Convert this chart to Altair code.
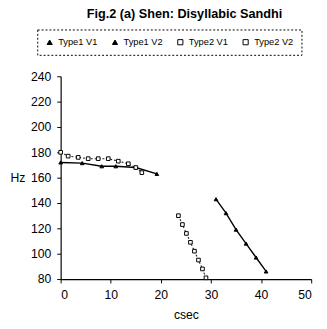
import altair as alt
import pandas as pd

series_names = ["Type1 V1", "Type1 V2", "Type2 V1", "Type2 V2"]

t1v1_x = [0, 4.3, 8.2, 11, 15, 19.2]
t1v1_y = [172, 171.5, 169, 169, 168, 163]

t1v2_x = [31, 33, 35, 37, 39, 41]
t1v2_y = [143, 132, 119, 108, 97, 86]

t2v1_x = [0, 1.5, 3.5, 5.5, 7.5, 9.5, 11.5, 13.5, 15, 16.2]
t2v1_y = [180, 177, 176, 175, 175, 175, 173, 171, 168, 164]

t2v2_x = [23.5, 24.3, 25.1, 25.9, 26.7, 27.5, 28.3, 29]
t2v2_y = [130, 123, 116, 109, 102, 95, 88, 81]

x_ticks = [0, 10, 20, 30, 40, 50]
y_ticks = [80, 100, 120, 140, 160, 180, 200, 220, 240]

title_text = "Fig.2 (a) Shen: Disyllabic Sandhi"

rows = []
for name, xs, ys in zip(series_names, [t1v1_x, t1v2_x, t2v1_x, t2v2_x],
                        [t1v1_y, t1v2_y, t2v1_y, t2v2_y]):
    for i, (xv, yv) in enumerate(zip(xs, ys)):
        rows.append({"series": name, "csec": xv, "Hz": yv, "ord": i,
                     "kind": name.split(" ")[0]})
df = pd.DataFrame(rows)

FONT = "Liberation Sans"

x_enc = alt.X("csec:Q", scale=alt.Scale(domain=[0, 50], nice=False),
              axis=alt.Axis(values=x_ticks, title="csec", titleFontWeight="normal",
                            titleFontSize=12.5, titlePadding=8, labelPadding=6,
                            tickSize=4, labelOverlap=False))
y_enc = alt.Y("Hz:Q", scale=alt.Scale(domain=[80, 240], nice=False),
              axis=alt.Axis(values=y_ticks, title="Hz", titleAngle=0,
                            titleFontWeight="normal", titleFontSize=12.5,
                            titleAlign="left", titleBaseline="middle",
                            titleX=-52, titleY=104, labelPadding=6, tickSize=4,
                            labelOverlap=False))

legend = alt.Legend(orient="none", legendX=-24, legendY=-48, direction="horizontal",
                    strokeColor="black", padding=8,
                    labelFont=FONT, labelFontSize=9.5, labelColor="black",
                    symbolSize=28, symbolStrokeWidth=1,
                    columnPadding=13, labelOffset=4, title=None)

base = alt.Chart(df)

solid = base.transform_filter(alt.datum.kind == "Type1").mark_line(
    color="black", strokeWidth=1.4).encode(
    x=x_enc, y=y_enc, detail="series:N", order="ord:Q")

dotted = base.transform_filter(alt.datum.kind == "Type2").mark_line(
    color="#222222", strokeWidth=1.1, strokeDash=[2, 2]).encode(
    x=x_enc, y=y_enc, detail="series:N", order="ord:Q")

points = base.mark_point(strokeWidth=1, opacity=1, fillOpacity=1, size=14).encode(
    x=x_enc, y=y_enc,
    shape=alt.Shape("series:N", title=None, legend=legend,
                    scale=alt.Scale(domain=series_names,
                                    range=["triangle-up", "triangle-up", "square", "square"])),
    fill=alt.Fill("series:N", title=None, legend=legend,
                  scale=alt.Scale(domain=series_names,
                                  range=["black", "black", "white", "white"])),
    stroke=alt.Stroke("series:N", title=None, legend=legend,
                      scale=alt.Scale(domain=series_names,
                                      range=["black", "black", "black", "black"])),
)

title = alt.Chart(pd.DataFrame({"t": [title_text]})).mark_text(
    font=FONT, fontSize=13, fontWeight="bold", color="black",
    align="center", baseline="alphabetic",
).encode(text="t:N", x=alt.value(127), y=alt.value(-60))

chart = alt.layer(solid, dotted, points, title).properties(
    width=257, height=208,
    autosize=alt.AutoSizeParams(type="none"),
    padding={"left": 54, "top": 66, "right": 8, "bottom": 40},
).configure_view(stroke=None).configure_axis(
    grid=False, domainColor="black", tickColor="black", labelColor="black",
    titleColor="black", labelFont=FONT, titleFont=FONT, labelFontSize=12.5,
    domainWidth=1.2, labelOverlap=False,
).configure_legend(strokeDash=[2, 2])

chart.save("out.html", embed_options={"renderer": "svg", "actions": False})
